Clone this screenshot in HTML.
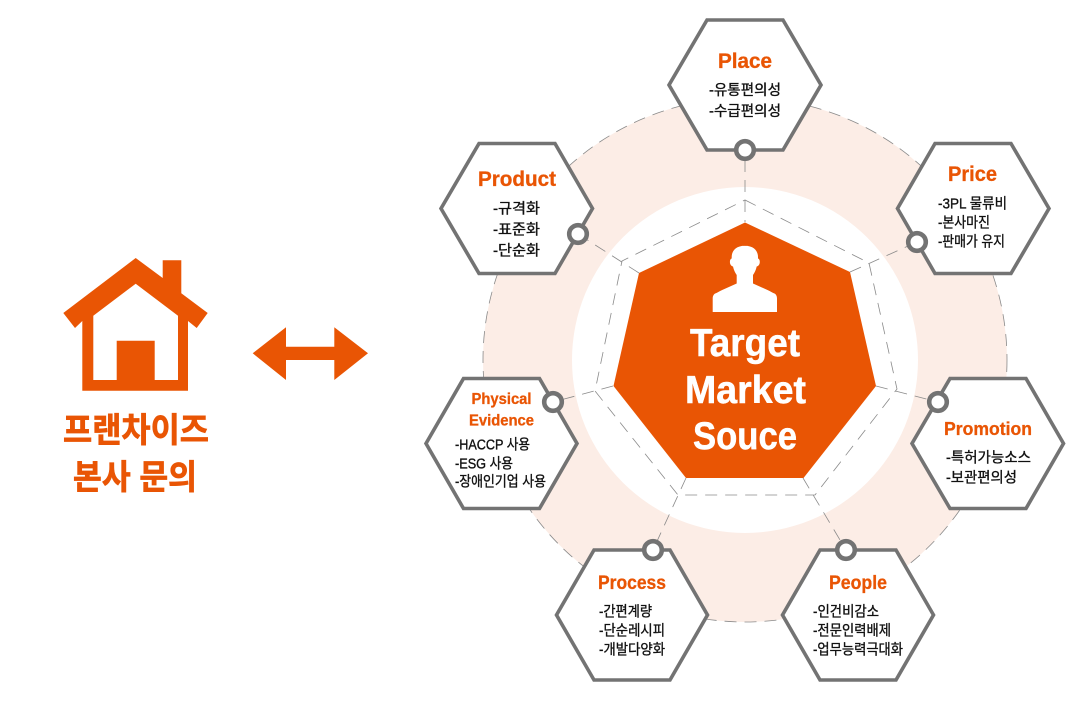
<!DOCTYPE html>
<html lang="ko">
<head>
<meta charset="utf-8">
<title>Target Market Souce</title>
<style>
html,body{margin:0;padding:0;background:#fff;width:1074px;height:708px;overflow:hidden}
svg{display:block}
.t{font-family:"Liberation Sans","Noto Sans CJK KR",sans-serif;font-weight:700;fill:#E95504;stroke:#E95504;stroke-width:.3px;font-size:21px}
.b{font-family:"Liberation Sans","Noto Sans CJK KR",sans-serif;fill:#111;font-size:14.5px;font-weight:400;stroke:#111;stroke-width:.35px}
.c{font-family:"Liberation Sans",sans-serif;font-weight:700;fill:#fff;stroke:#fff;stroke-width:.5px;font-size:39px}
.h{font-family:"Liberation Sans","Noto Sans CJK KR",sans-serif;font-weight:700;fill:#E95504;stroke:#E95504;stroke-width:.7px;font-size:34px}
.hex{fill:#fff;stroke:#737373;stroke-width:3.6;stroke-linejoin:miter}
.dot{fill:#fff;stroke:#737373;stroke-width:4.6}
.d{fill:none;stroke:#8a8a8a;stroke-width:.8;stroke-dasharray:12 8}
</style>
</head>
<body>
<svg width="1074" height="708" viewBox="0 0 1074 708" xmlns="http://www.w3.org/2000/svg">
  <!-- background rings -->
  <circle cx="745" cy="360" r="262" fill="#FCEDE6" stroke="#8a8a8a" stroke-width=".8" stroke-dasharray="12 8"/>
  <circle cx="745" cy="360" r="173" fill="#fff"/>

  <!-- dashed heptagon -->
  <polygon class="d" points="745,200 869,263 897,389 815,495 678,495 595,391 622,261"/>
  <!-- spokes -->
  <path class="d" d="M745,160L745,222M850,272L917,242M876,386L938,402M803,478L846,550M686,478L653,550M613,386L553,402M639,273L578,234"/>

  <!-- central heptagon -->
  <polygon points="745,222.500 850,272 876,386 803.500,478 686,478 613.500,386 639,273" fill="#E95504"/>

  <!-- person icon -->
  <path fill="#fff" d="M745,245.700c-9,0-13.300,5-13.300,11.300v1.500c-2,.5-2.200,4-1.200,6c.6,1.200,1.500,1.800,2.500,2c.8,3.500,2,6,3.700,8.500v8.500l-14.500,6.500c-3,1.300-5,2.800-7,3.500c-1.800,1-2.500,3-2.500,5V312h64.300v-13.500c0-2-.7-4-2.500-5c-2-.7-4-2.200-7-3.500l-14.500-6.500V275c1.700-2.500 2.900-5 3.700-8.500c1-.2 1.900-.8 2.500-2c1-2 .8-5.500-1.200-6V257c0-6.300-4.300-11.300-13.300-11.300z"/>

  <!-- central text -->
  <text class="c" x="690" y="356" textLength="110" lengthAdjust="spacingAndGlyphs">Target</text>
  <text class="c" x="685" y="403" textLength="121" lengthAdjust="spacingAndGlyphs">Market</text>
  <text class="c" x="693" y="449" textLength="104" lengthAdjust="spacingAndGlyphs">Souce</text>

  <!-- hexagons -->
  <polygon class="hex" points="707,20 783,20 821,85 783,150 707,150 669,85"/>
  <polygon class="hex" points="479,143.500 555,143.500 592.500,208.500 555,273.500 479,273.500 441,208.500"/>
  <polygon class="hex" points="935,143.500 1011,143.500 1049,208.500 1011,273.500 935,273.500 897.500,208.500"/>
  <polygon class="hex" points="463.500,378.500 539.500,378.500 577,443.500 539.500,508.500 463.500,508.500 426,443.500"/>
  <polygon class="hex" points="950,378.500 1026,378.500 1063.500,443.500 1026,508.500 950,508.500 912,443.500"/>
  <polygon class="hex" points="594,550 670,550 707.500,615 670,680 594,680 556.500,615"/>
  <polygon class="hex" points="820,550 896,550 933.500,615 896,680 820,680 782.500,615"/>

  <!-- connector dots -->
  <circle class="dot" cx="745" cy="150" r="8.800"/>
  <circle class="dot" cx="578" cy="234" r="8.800"/>
  <circle class="dot" cx="917" cy="242" r="8.800"/>
  <circle class="dot" cx="553" cy="402" r="8.800"/>
  <circle class="dot" cx="938" cy="402" r="8.800"/>
  <circle class="dot" cx="653" cy="550" r="8.800"/>
  <circle class="dot" cx="846" cy="550" r="8.800"/>

  <!-- Place -->
  <text class="t" x="718" y="68" textLength="54" lengthAdjust="spacingAndGlyphs">Place</text>
  <text class="b" x="709" y="95" textLength="72" lengthAdjust="spacingAndGlyphs">-유통편의성</text>
  <text class="b" x="709" y="116" textLength="72" lengthAdjust="spacingAndGlyphs">-수급편의성</text>

  <!-- Product -->
  <text class="t" x="478" y="186" textLength="78" lengthAdjust="spacingAndGlyphs">Product</text>
  <text class="b" x="493" y="213.500" textLength="47" lengthAdjust="spacingAndGlyphs">-규격화</text>
  <text class="b" x="493" y="234.500" textLength="47" lengthAdjust="spacingAndGlyphs">-표준화</text>
  <text class="b" x="493" y="255.500" textLength="47" lengthAdjust="spacingAndGlyphs">-단순화</text>

  <!-- Price -->
  <text class="t" x="948" y="181" textLength="49" lengthAdjust="spacingAndGlyphs">Price</text>
  <text class="b" x="938" y="208.500" textLength="69" lengthAdjust="spacingAndGlyphs">-3PL 물류비</text>
  <text class="b" x="938" y="227.500" textLength="52" lengthAdjust="spacingAndGlyphs">-본사마진</text>
  <text class="b" x="938" y="246.500" textLength="67" lengthAdjust="spacingAndGlyphs">-판매가 유지</text>

  <!-- Physical Evidence -->
  <text class="t" style="font-size:16px" x="471.500" y="404" textLength="60" lengthAdjust="spacingAndGlyphs">Physical</text>
  <text class="t" style="font-size:16px" x="469" y="425.500" textLength="65" lengthAdjust="spacingAndGlyphs">Evidence</text>
  <text class="b" x="455" y="449.500" textLength="75" lengthAdjust="spacingAndGlyphs">-HACCP 사용</text>
  <text class="b" x="455" y="468.500" textLength="58" lengthAdjust="spacingAndGlyphs">-ESG 사용</text>
  <text class="b" x="455" y="486.500" textLength="91" lengthAdjust="spacingAndGlyphs">-장애인기업 사용</text>

  <!-- Promotion -->
  <text class="t" style="font-size:18px" x="944" y="435" textLength="88" lengthAdjust="spacingAndGlyphs">Promotion</text>
  <text class="b" x="946" y="462.500" textLength="85" lengthAdjust="spacingAndGlyphs">-특허가능소스</text>
  <text class="b" x="946" y="482.500" textLength="71" lengthAdjust="spacingAndGlyphs">-보관편의성</text>

  <!-- Process -->
  <text class="t" style="font-size:19px" x="598" y="589" textLength="68" lengthAdjust="spacingAndGlyphs">Process</text>
  <text class="b" x="599" y="616.500" textLength="53" lengthAdjust="spacingAndGlyphs">-간편계량</text>
  <text class="b" x="599" y="635.500" textLength="66" lengthAdjust="spacingAndGlyphs">-단순레시피</text>
  <text class="b" x="599" y="654.500" textLength="66" lengthAdjust="spacingAndGlyphs">-개발다양화</text>

  <!-- People -->
  <text class="t" style="font-size:19px" x="829" y="589" textLength="58" lengthAdjust="spacingAndGlyphs">People</text>
  <text class="b" x="813" y="616.500" textLength="66" lengthAdjust="spacingAndGlyphs">-인건비감소</text>
  <text class="b" x="813" y="635.500" textLength="78" lengthAdjust="spacingAndGlyphs">-전문인력배제</text>
  <text class="b" x="813" y="654.500" textLength="90" lengthAdjust="spacingAndGlyphs">-업무능력극대화</text>

  <!-- house -->
  <path fill="#E95504" fill-rule="evenodd" d="M135.700,258L162.700,278V260.300H181.300V293.300L207.700,313L196.700,328L188,321V390.700H82.300V321L75,328L63.300,313Z
  M135.700,283.700L93.300,315.700V380H116.700V340.700H154.700V380H178V315.700Z"/>

  <!-- double arrow -->
  <polygon fill="#E95504" points="252.700,353.300 286,327.300 286,346.700 334.300,346.700 334.300,327.300 368,353.300 334.300,380 334.300,360 286,360 286,380"/>

  <!-- left caption -->
  <text class="h" x="63" y="442" textLength="146" lengthAdjust="spacingAndGlyphs">프랜차이즈</text>
  <text class="h" x="73" y="489" textLength="124" lengthAdjust="spacingAndGlyphs">본사 문의</text>
</svg>
</body>
</html>
